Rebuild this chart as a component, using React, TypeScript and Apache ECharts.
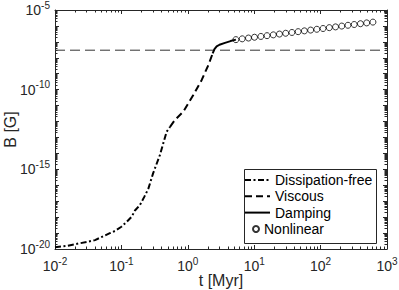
import React, { useEffect, useRef } from 'react';
import * as echarts from 'echarts';

// ---- data ----
const dissipationT = [0.01, 0.015, 0.02, 0.03, 0.04, 0.05, 0.067, 0.08, 0.1, 0.12, 0.143, 0.16, 0.19, 0.22, 0.254, 0.3, 0.38, 0.48, 0.54];
const dissipationB = [1.3e-20, 1.55e-20, 2.0e-20, 2.75e-20, 3.6e-20, 5.6e-20, 9.8e-20, 1.35e-19, 2.5e-19, 5.0e-19, 1.07e-18, 2.6e-18, 5.8e-18, 1.8e-17, 5.9e-17, 5.6e-16, 7.9e-15, 2.3e-13, 4.6e-13];

const viscousT = [0.54, 0.64, 0.855, 1.21, 1.62, 2.04, 2.37];
const viscousB = [4.6e-13, 1.26e-12, 4.2e-12, 4.6e-11, 4.1e-10, 3.5e-9, 1.9e-8];

const dampingT = [2.37, 2.52, 2.72, 3.0, 3.63, 4.4, 5.3];
const dampingB = [1.9e-8, 3.5e-8, 5.2e-8, 6.6e-8, 8.7e-8, 1.12e-7, 1.38e-7];

const nonlinearT = [5.3, 6.6, 8.2, 10.1, 12.6, 15.6, 19.4, 24.0, 29.8, 37.0, 45.9, 57.0, 70.8, 87.7, 108.9, 135.2, 167.9, 208.4, 258.2, 320.6, 398.1, 494.3, 613.8];
const nonlinearB = [1.38e-7, 1.55e-7, 1.74e-7, 1.95e-7, 2.19e-7, 2.45e-7, 2.75e-7, 3.09e-7, 3.47e-7, 3.89e-7, 4.37e-7, 4.9e-7, 5.5e-7, 6.17e-7, 6.9e-7, 7.8e-7, 8.7e-7, 9.8e-7, 1.1e-6, 1.23e-6, 1.38e-6, 1.55e-6, 1.74e-6];

const thresholdT = [0.01, 1000];
const thresholdB = [3e-8, 3e-8];

const xDecades = [0.01, 0.1, 1, 10, 100, 1000];
const xLabels = [0.01, 0.1, 1, 10, 100, 1000];
const yDecades = [1e-20, 1e-19, 1e-18, 1e-17, 1e-16, 1e-15, 1e-14, 1e-13, 1e-12, 1e-11, 1e-10, 1e-9, 1e-8, 1e-7, 1e-6, 1e-5];
const yLabels = [1e-20, 1e-15, 1e-10, 1e-5];
const minorMultipliers = [2, 3, 4, 5, 6, 7, 8, 9];

const FONT = 'Arial';
const INK = '#262626';

const zip = (a: number[], b: number[]) => a.map((v, i) => [v, b[i]]);
const minorsOf = (decades: number[]) =>
  decades.slice(0, -1).flatMap((d) => minorMultipliers.map((m) => +(d * m).toPrecision(6)));

const supLabel = (v: number) => {
  const e = Math.round(Math.log10(v));
  return `{b|10}{s|${e}}`;
};

const rich = {
  b: { fontSize: 14, fontFamily: FONT, color: INK },
  s: { fontSize: 10, fontFamily: FONT, color: INK, padding: [0, 0, 10, 0] },
};

export default function App() {
  const ref = useRef<HTMLDivElement>(null);
  useEffect(() => {
    if (!ref.current) return;
    const chart = echarts.init(ref.current, undefined, { renderer: 'svg' });
    const xRange = { type: 'log' as const, logBase: 10, min: 0.01, max: 1000, splitLine: { show: false } };
    const yRange = { type: 'log' as const, logBase: 10, min: 1e-20, max: 1e-5, splitLine: { show: false } };
    const axisLine = { show: true, lineStyle: { color: INK, width: 1 } };
    const xMinor = minorsOf(xDecades);
    const yMinor = minorsOf(yDecades);
    chart.setOption({
      animation: false,
      backgroundColor: '#fff',
      grid: { left: 55, top: 10, width: 332, height: 239, containLabel: false, outerBoundsMode: 'none' },
      xAxis: [
        {
          ...xRange, position: 'bottom', axisLine,
          axisTick: { show: true, inside: true, length: 4, lineStyle: { color: INK }, customValues: xDecades },
          axisLabel: { show: true, margin: 7, fontSize: 14, fontFamily: FONT, customValues: xLabels, formatter: supLabel, rich },
          name: 't [Myr]', nameLocation: 'middle', nameGap: 23, nameMoveOverlap: false,
          nameTextStyle: { fontSize: 16, fontFamily: FONT, color: INK },
        },
        {
          ...xRange, position: 'top', axisLine,
          axisTick: { show: true, inside: true, length: 4, lineStyle: { color: INK }, customValues: xDecades },
          axisLabel: { show: false },
        },
        {
          ...xRange, position: 'bottom', axisLine: { show: false },
          axisTick: { show: true, inside: true, length: 2.5, lineStyle: { color: INK }, customValues: xMinor },
          axisLabel: { show: false },
        },
        {
          ...xRange, position: 'top', axisLine: { show: false },
          axisTick: { show: true, inside: true, length: 2.5, lineStyle: { color: INK }, customValues: xMinor },
          axisLabel: { show: false },
        },
      ],
      yAxis: [
        {
          ...yRange, position: 'left', axisLine,
          axisTick: { show: true, inside: true, length: 4, lineStyle: { color: INK }, customValues: yDecades },
          axisLabel: { show: true, margin: 5, fontSize: 14, fontFamily: FONT, customValues: yLabels, formatter: supLabel, rich },
          name: 'B [G]', nameLocation: 'middle', nameGap: 37, nameRotate: 90, nameMoveOverlap: false,
          nameTextStyle: { fontSize: 16, fontFamily: FONT, color: INK },
        },
        {
          ...yRange, position: 'right', axisLine,
          axisTick: { show: true, inside: true, length: 4, lineStyle: { color: INK }, customValues: yDecades },
          axisLabel: { show: false },
        },
        {
          ...yRange, position: 'left', axisLine: { show: false },
          axisTick: { show: true, inside: true, length: 2.5, lineStyle: { color: INK }, customValues: yMinor },
          axisLabel: { show: false },
        },
        {
          ...yRange, position: 'right', axisLine: { show: false },
          axisTick: { show: true, inside: true, length: 2.5, lineStyle: { color: INK }, customValues: yMinor },
          axisLabel: { show: false },
        },
      ],
      legend: [
        {
          data: ['Dissipation-free', 'Viscous', 'Damping'],
          orient: 'vertical', left: 244, top: 173, padding: 0,
          itemWidth: 25, itemHeight: 10, itemGap: 2.3,
          itemStyle: { opacity: 0 },
          textStyle: { fontSize: 14, fontFamily: FONT, color: '#000' },
        },
        {
          data: ['Nonlinear'],
          orient: 'vertical', left: 252, top: 222, padding: 0,
          itemWidth: 6, itemHeight: 6,
          textStyle: { fontSize: 14, fontFamily: FONT, color: '#000' },
        },
      ],
      graphic: [
        {
          type: 'rect', z: 3, silent: true,
          shape: { x: 244.5, y: 169.5, width: 132, height: 74 },
          style: { fill: '#fff', stroke: INK, lineWidth: 1 },
        },
      ],
      series: [
        {
          name: 'threshold', type: 'line', data: zip(thresholdT, thresholdB), symbol: 'none',
          lineStyle: { color: '#333', width: 1, type: [10, 5] }, z: 1,
        },
        {
          name: 'Dissipation-free', type: 'line', data: zip(dissipationT, dissipationB), symbol: 'none',
          lineStyle: { color: '#000', width: 2, type: [6, 2.5, 2, 2.5] }, itemStyle: { color: '#000' },
        },
        {
          name: 'Viscous', type: 'line', data: zip(viscousT, viscousB), symbol: 'none',
          lineStyle: { color: '#000', width: 2, type: [7, 4] }, itemStyle: { color: '#000' },
        },
        {
          name: 'Damping', type: 'line', data: zip(dampingT, dampingB), symbol: 'none',
          lineStyle: { color: '#000', width: 2, type: 'solid' }, itemStyle: { color: '#000' },
        },
        {
          name: 'Nonlinear', type: 'scatter', data: zip(nonlinearT, nonlinearB), symbol: 'circle', symbolSize: 6,
          itemStyle: { color: 'rgba(255,255,255,0)', borderColor: '#000', borderWidth: 1 },
        },
      ],
    });
    return () => chart.dispose();
  }, []);
  return (
    <div
      ref={ref}
      style={{ position: 'fixed', left: 0, top: 0, width: 399, height: 290, background: '#fff' }}
    />
  );
}
